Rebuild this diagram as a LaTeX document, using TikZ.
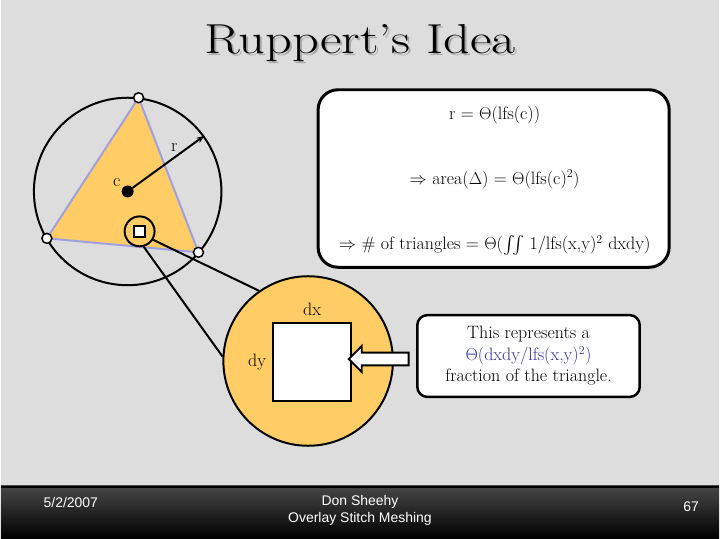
\documentclass[tikz,border=0pt]{standalone}
\usepackage{amsmath,amssymb}
\usepackage{fontspec}
\usetikzlibrary{shapes.arrows,arrows.meta,positioning}
\newfontfamily\footfont{Liberation Sans}
\definecolor{slidebg}{RGB}{221,221,221}
\definecolor{tri}{RGB}{255,204,102}
\definecolor{edge}{RGB}{160,160,225}
\definecolor{eqblue}{RGB}{51,51,153}

\begin{document}
\begin{tikzpicture}[
  x=1pt, y=-1pt,
  font=\fontsize{18}{21.5}\selectfont,
  vtx/.style={circle, draw, fill=white, line width=1.5pt, inner sep=0pt, minimum size=10pt},
  ring/.style={circle, draw, line width=2pt, inner sep=0pt},
  eqbox/.style={draw, line width=3pt, rounded corners=20pt, fill=white},
  lbl/.style={inner sep=1pt},
  heading/.style={font=\fontsize{42}{50}\selectfont},
  footer/.style={text=white, font=\footfont\fontsize{14}{17}\selectfont},
  >={Stealth[length=8pt, width=6pt]}
]
\fill[slidebg] (0,0) rectangle (720,487);
\shade[top color=black!72, bottom color=black] (0,487) rectangle (720,540);
\draw[line width=2pt] (0,488) -- (720,488);
\useasboundingbox (0,0) rectangle (720,540);

\node[heading, text=black!35] (shadow) at (362,45) {\scalebox{1.25}[1]{Ruppert’s Idea}};
\node[heading] (title) at (360,43) {\scalebox{1.25}[1]{Ruppert’s Idea}};

\coordinate (c) at (127,192);
\coordinate (v1) at (138,98);
\coordinate (v2) at (46,239);
\coordinate (v3) at (198,253);
\node[ring, minimum size=188pt] (cc) at (c) {};
\filldraw[fill=tri, draw=edge, line width=2pt] (v1) -- (v2) -- (v3) -- cycle;

\node[ring, fill=tri, minimum size=170pt] (mag) at (308,362) {};
\node[ring, minimum size=30pt] (sm) at (139,232) {};
\node[draw, fill=white, line width=2pt, minimum size=11pt, inner sep=0pt] (smsq) at (sm) {};
\draw[line width=2pt] (sm.-32) -- (mag.125);
\draw[line width=2pt] (sm.-75) -- (mag.177);

\node[circle, fill=black, minimum size=12pt, inner sep=0pt] (cdot) at (c) {};
\node[lbl] (clbl) at (116,183) {c};
\draw[->, line width=2pt] (cdot) -- node[pos=0.58, above=2pt] {r} (cc.36);
\foreach \v in {v1,v2,v3}
  \node[vtx] at (\v) {};

\node[draw, fill=white, line width=2pt, minimum size=78pt, inner sep=0pt] (sq) at (312,363) {};
\node[lbl, above=5pt of sq] (dx) {dx};
\node[lbl, left=5pt of sq] (dy) {dy};

\node[eqbox, rounded corners=10pt, line width=2.5pt, align=center, minimum width=223pt, minimum height=82pt]
  (note) at (529,357) {This represents a\\\textcolor{eqblue}{$\Theta$(dxdy/lfs(x,y)$^2$)}\\fraction of the triangle.};
\node[single arrow, draw, fill=white, line width=2pt, shape border rotate=180, inner sep=5.5pt,
  minimum height=60pt, single arrow head extend=6.5pt] (arr) at (382,360) {};

\node[eqbox, minimum width=352pt, minimum height=178pt] (eqs) at (494,179) {};
\node (eq1) at (495,115) {r = $\Theta$(lfs(c))};
\node (eq2) at (495,180) {$\Rightarrow$ area($\Delta$) = $\Theta$(lfs(c)$^2$)};
\node (eq3) at (495,246) {$\Rightarrow$ \# of triangles = $\Theta$($\int\!\!\int$ 1/lfs(x,y)$^2$ dxdy)};

\node[footer] (date) at (70,504) {5/2/2007};
\node[footer, align=center] (auth) at (360,512) {Don Sheehy\\Overlay Stitch Meshing};
\node[footer] (page) at (692,508) {67};
\end{tikzpicture}
\end{document}
